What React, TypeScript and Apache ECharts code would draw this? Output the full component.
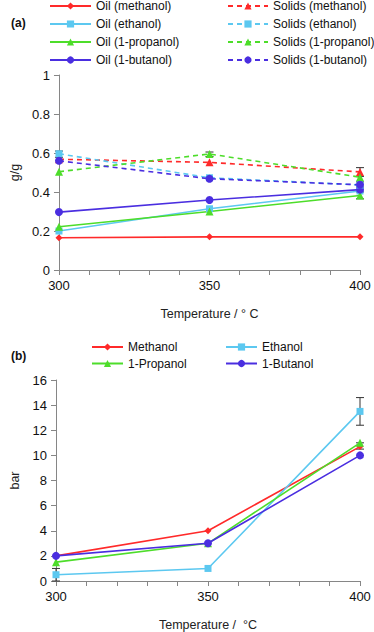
import React, { useEffect, useRef } from "react";
import * as echarts from "echarts";

const temps = [300, 350, 400];

// Panel (a) g/g
const oilMethanol = [0.165, 0.17, 0.17];
const oilEthanol = [0.2, 0.314, 0.405];
const oilPropanol = [0.222, 0.3, 0.382];
const oilButanol = [0.297, 0.359, 0.412];
const solidsMethanol = [0.568, 0.552, 0.503];
const solidsEthanol = [0.596, 0.473, 0.436];
const solidsPropanol = [0.504, 0.595, 0.476];
const solidsButanol = [0.56, 0.468, 0.437];
const errA = [
  [300, 0.578, 0.61],
  [350, 0.582, 0.605],
  [400, 0.48, 0.525],
  [400, 0.365, 0.4],
  [400, 0.425, 0.452],
];

// Panel (b) bar
const pMethanol = [2.0, 4.0, 10.7];
const pEthanol = [0.5, 1.0, 13.5];
const pPropanol = [1.5, 3.0, 11.0];
const pButanol = [2.0, 3.0, 10.0];
const errB = [
  [300, 0, 1.0],
  [400, 12.4, 14.6],
  [400, 10.5, 11.0],
];

const RED = "#ff2a2a";
const CYAN = "#5cc8f0";
const GREEN = "#4ddd2a";
const PURPLE = "#4a2ee0";
const FONT = "Liberation Sans";
const AXIS = "#868686";

const pairs = (ys: number[]) => temps.map((t, i) => [t, ys[i]]);

export default function App() {
  const ref = useRef<HTMLDivElement>(null);
  useEffect(() => {
    const chart = echarts.init(ref.current!, null, { renderer: "svg" });
    const mkLine = (
      name: string,
      ys: number[],
      color: string,
      symbol: string,
      size: number,
      dashed: boolean,
      idx: number
    ) => ({
      name,
      type: "line",
      xAxisIndex: idx,
      yAxisIndex: idx,
      data: pairs(ys),
      symbol,
      symbolSize: size,
      color,
      itemStyle: { color },
      lineStyle: { color, width: 1.6, type: dashed ? [5, 4] : "solid" },
    });
    const errSeries = (data: number[][], idx: number) => ({
      type: "custom",
      xAxisIndex: idx,
      yAxisIndex: idx,
      data,
      encode: { x: 0, y: [1, 2] },
      z: 1,
      renderItem: (params: any, api: any) => {
        const x = api.value(0);
        const p1 = api.coord([x, api.value(2)]);
        const p2 = api.coord([x, api.value(1)]);
        const w = 4;
        const st = { stroke: "#333", lineWidth: 1 };
        return {
          type: "group",
          children: [
            { type: "line", shape: { x1: p1[0], y1: p1[1], x2: p2[0], y2: p2[1] }, style: st },
            { type: "line", shape: { x1: p1[0] - w, y1: p1[1], x2: p1[0] + w, y2: p1[1] }, style: st },
            { type: "line", shape: { x1: p2[0] - w, y1: p2[1], x2: p2[0] + w, y2: p2[1] }, style: st },
          ],
        };
      },
    });
    const xAxis = (idx: number, name: string) => ({
      type: "value",
      gridIndex: idx,
      min: 300,
      max: 400,
      interval: 10,
      name,
      nameLocation: "middle",
      nameGap: 37,
      nameTextStyle: { fontFamily: FONT, fontSize: 12.5, color: "#222" },
      axisLine: { lineStyle: { color: AXIS } },
      axisTick: { show: true, length: 5, lineStyle: { color: AXIS } },
      axisLabel: {
        fontFamily: FONT,
        fontSize: 13,
        color: "#111",
        margin: 9,
        formatter: (v: number) => (v % 50 === 0 ? String(v) : ""),
      },
      splitLine: { show: false },
    });
    const yAxis = (idx: number, max: number, interval: number, name: string) => ({
      type: "value",
      gridIndex: idx,
      min: 0,
      max,
      interval,
      name,
      nameLocation: "middle",
      nameGap: 35,
      nameTextStyle: { fontFamily: FONT, fontSize: 12.5, color: "#222" },
      axisLine: { show: true, lineStyle: { color: AXIS } },
      axisTick: { show: true, length: 5, lineStyle: { color: AXIS } },
      axisLabel: { fontFamily: FONT, fontSize: 13, color: "#111", margin: 9 },
      splitLine: { show: false },
    });
    const legend = (left: number, top: number, data: string[], w: number, gap: number) => ({
      orient: "vertical",
      left,
      top,
      padding: 0,
      itemWidth: w,
      itemHeight: 9,
      itemGap: gap,
      data,
      selectedMode: false,
      textStyle: { fontFamily: FONT, fontSize: 12, color: "#111", padding: [0, 0, 0, 0] },
    });
    chart.setOption({
      animation: false,
      grid: [
        { left: 47, top: 75, width: 313, height: 195 },
        { left: 47, top: 380, width: 313, height: 207 },
      ],
      xAxis: [xAxis(0, "Temperature / ° C"), xAxis(1, "Temperature /  °C")],
      yAxis: [yAxis(0, 1, 0.2, "g/g"), yAxis(1, 16, 2, "bar")],
      legend: [
        legend(49, 0, ["Oil (methanol)", "Oil (ethanol)", "Oil (1-propanol)", "Oil (1-butanol)"], 41, 6),
        legend(227, 0, ["Solids (methanol)", "Solids (ethanol)", "Solids (1-propanol)", "Solids (1-butanol)"], 40, 6),
        legend(91, 341, ["Methanol", "1-Propanol"], 31, 4.5),
        legend(225, 341, ["Ethanol", "1-Butanol"], 31, 4.5),
      ],
      graphic: [
        { type: "text", left: 11, top: 17, style: { text: "(a)", font: `bold 12px ${FONT}`, fill: "#111" } },
        { type: "text", left: 11, top: 350, style: { text: "(b)", font: `bold 12px ${FONT}`, fill: "#111" } },
      ],
      series: [
        errSeries(errA, 0),
        mkLine("Oil (methanol)", oilMethanol, RED, "diamond", 7, false, 0),
        mkLine("Oil (ethanol)", oilEthanol, CYAN, "rect", 7, false, 0),
        mkLine("Oil (1-propanol)", oilPropanol, GREEN, "triangle", 8, false, 0),
        mkLine("Oil (1-butanol)", oilButanol, PURPLE, "circle", 8, false, 0),
        mkLine("Solids (methanol)", solidsMethanol, RED, "triangle", 8, true, 0),
        mkLine("Solids (ethanol)", solidsEthanol, CYAN, "rect", 7, true, 0),
        mkLine("Solids (1-propanol)", solidsPropanol, GREEN, "triangle", 8, true, 0),
        mkLine("Solids (1-butanol)", solidsButanol, PURPLE, "circle", 8, true, 0),
        errSeries(errB, 1),
        mkLine("Methanol", pMethanol, RED, "diamond", 7, false, 1),
        mkLine("Ethanol", pEthanol, CYAN, "rect", 7, false, 1),
        mkLine("1-Propanol", pPropanol, GREEN, "triangle", 8, false, 1),
        mkLine("1-Butanol", pButanol, PURPLE, "circle", 8, false, 1),
      ],
    });
    return () => chart.dispose();
  }, []);
  return (
    <div
      ref={ref}
      style={{ position: "fixed", left: 0, top: 0, width: 374, height: 632, background: "#fff" }}
    />
  );
}
